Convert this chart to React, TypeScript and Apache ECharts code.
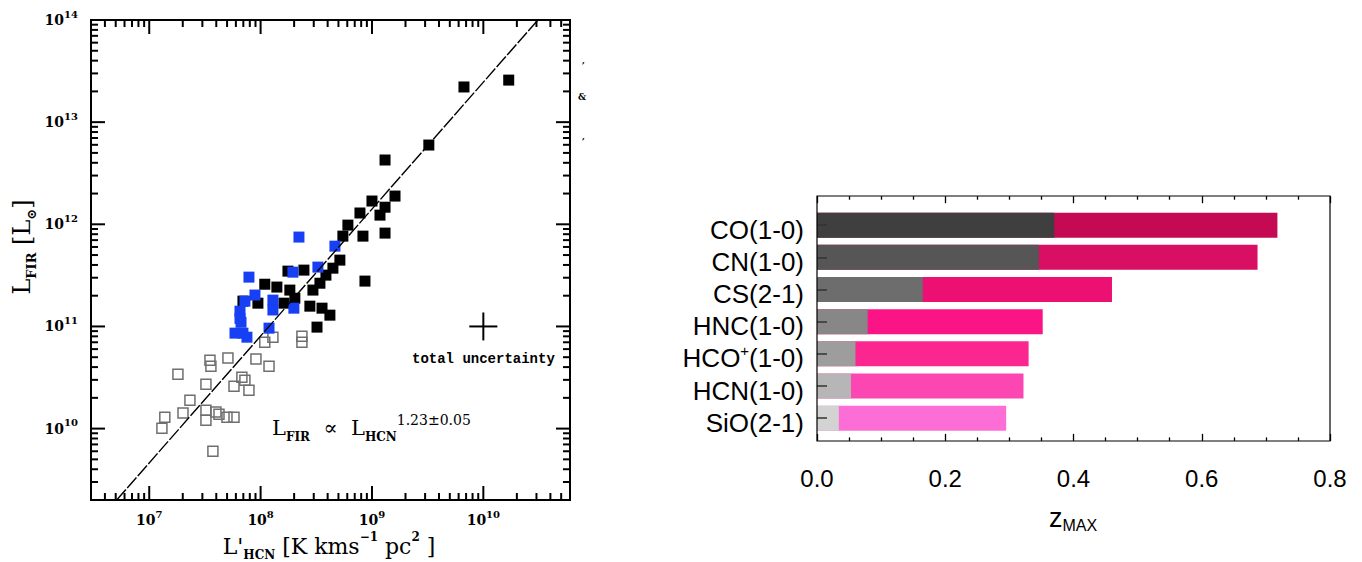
import React, { useEffect, useRef } from "react";
import * as echarts from "echarts";

// ---------- Left panel: L'_HCN vs L_FIR ----------
// [L'HCN (K km s^-1 pc^2), L_FIR (L_sun)]
const hcnGalaxiesGray: number[][] = [
  [1.09e8, 7.02e10], [1.29e8, 7.85e10], [2.35e8, 8.04e10], [2.35e8, 7.02e10],
  [3.51e7, 4.68e10], [3.58e7, 4.08e10], [5.09e7, 4.9e10], [9.08e7, 4.79e10],
  [1.19e8, 4.08e10], [1.81e7, 3.41e10], [3.23e7, 2.72e10], [6.79e7, 3.18e10],
  [7.23e7, 2.98e10], [5.77e7, 2.6e10], [7.86e7, 2.38e10], [2.32e7, 1.9e10],
  [2.01e7, 1.42e10], [1.38e7, 1.29e10], [1.3e7, 1.01e10], [3.23e7, 1.51e10],
  [3.23e7, 1.21e10], [3.97e7, 1.45e10], [4.23e7, 1.38e10], [4.99e7, 1.29e10],
  [5.77e7, 1.29e10], [3.73e7, 6.0e9],
];
const hcnGalaxiesBlack: number[][] = [
  [1.69e10, 2.58e13], [6.7e9, 2.21e13], [3.24e9, 5.97e12], [1.31e9, 4.26e12],
  [1.61e9, 1.89e12], [1.0e9, 1.69e12], [1.31e9, 1.47e12], [1.18e9, 1.23e12],
  [7.8e8, 1.29e12], [6.08e8, 9.82e11], [5.48e8, 7.66e11], [8.3e8, 7.66e11],
  [1.31e9, 8.2e11], [8.65e8, 2.78e11], [5.15e8, 4.46e11], [4.46e8, 3.72e11],
  [3.41e8, 2.65e11], [2.95e8, 2.27e11], [2.45e8, 3.56e11], [1.76e8, 3.48e11],
  [1.09e8, 2.59e11], [1.4e8, 2.43e11], [1.83e8, 2.27e11], [2.03e8, 1.89e11],
  [1.62e8, 1.69e11], [9.46e7, 1.69e11], [2.77e8, 1.58e11], [3.56e8, 1.51e11],
  [4.19e8, 1.29e11], [3.21e8, 9.85e10], [3.86e8, 3.18e11], [6.94e7, 1.77e11],
];
const hcnGalaxiesBlue: number[][] = [
  [2.21e8, 7.5e11], [4.65e8, 6.11e11], [7.86e7, 3.04e11], [1.95e8, 3.4e11],
  [3.27e8, 3.81e11], [8.9e7, 2.03e11], [7.23e7, 1.77e11], [1.29e8, 1.81e11],
  [6.53e7, 1.41e11], [1.29e8, 1.45e11], [1.99e8, 1.51e11], [6.67e7, 1.1e11],
  [5.89e7, 8.6e10], [7.54e7, 7.85e10], [1.19e8, 9.62e10], [6.94e7, 8.6e10],
  [6.53e7, 1.2e11],
];
const fitLine: number[][] = [[5.1e6, 2e9], [3.09e10, 1e14]];
const uncertaintyH: number[][] = [[7.48e9, 1e11], [1.336e10, 1e11]];
const uncertaintyV: number[][] = [[1e10, 7.3e10], [1e10, 1.37e11]];

const xRange = [3e6, 6e10];
const yRange = [2e9, 1e14];
const xMajor = [1e7, 1e8, 1e9, 1e10];
const yMajor = [1e10, 1e11, 1e12, 1e13, 1e14];

// ---------- Right panel: z_MAX per line ----------
const molecules = ["CO(1-0)", "CN(1-0)", "CS(2-1)", "HNC(1-0)", "HCO+(1-0)", "HCN(1-0)", "SiO(2-1)"];
const zGray = [0.37, 0.346, 0.165, 0.079, 0.06, 0.053, 0.034];
const zTotal = [0.718, 0.687, 0.46, 0.352, 0.33, 0.322, 0.295];
const grayColors = ["#3f3f3f", "#565656", "#6d6d6d", "#878787", "#9d9d9d", "#b6b6b6", "#d3d3d3"];
const pinkColors = ["#c40a52", "#d80f62", "#ec1073", "#fa1485", "#fc2690", "#fc47b2", "#fc6ed5"];

function minorTicks(lo: number, hi: number): number[] {
  const out: number[] = [];
  for (let e = Math.floor(Math.log10(lo)); e <= Math.ceil(Math.log10(hi)); e++) {
    for (let k = 2; k <= 9; k++) {
      const v = k * Math.pow(10, e);
      if (v >= lo && v <= hi) out.push(v);
    }
  }
  return out;
}
const xMinor = minorTicks(xRange[0], xRange[1]);
const yMinor = minorTicks(yRange[0], yRange[1]);

const SERIF = "DejaVu Serif";
const SANS = "Liberation Sans";

function powLabel(v: number): string {
  const e = Math.log10(v);
  const r = Math.round(e);
  if (Math.abs(e - r) > 1e-6) return "";
  return `{b|10}{s|${r}}`;
}
const powRich = {
  b: { fontFamily: SERIF, fontSize: 14, fontWeight: "bold", lineHeight: 22, color: "#000" },
  s: { fontFamily: SERIF, fontSize: 10, fontWeight: "bold", lineHeight: 10, verticalAlign: "top", color: "#000" },
};

function logAxis(kind: "x" | "y", position: string) {
  const range = kind === "x" ? xRange : yRange;
  const vals = kind === "x" ? xMajor : yMajor;
  return {
    gridIndex: 0,
    type: "log",
    logBase: 10,
    min: range[0],
    max: range[1],
    position,
    axisLine: { show: false },
    axisTick: { show: false },
    axisLabel: { show: true, customValues: vals, formatter: powLabel, rich: powRich, margin: kind === "x" ? 9 : 13 },
    splitLine: { show: false },
    minorTick: { show: false },
    z: 5,
  };
}

// Inside tick marks on the four sides of the left frame, placed through the log scales.
const MAJOR_LEN = 14;
const MINOR_LEN = 7;
const TICK_W = 2;
function tickItem(side: string, v: number, len: number) {
  if (side === "bottom") return { value: [v, yRange[0]], symbolSize: [TICK_W, len], symbolOffset: [0, -len / 2] };
  if (side === "top") return { value: [v, yRange[1]], symbolSize: [TICK_W, len], symbolOffset: [0, len / 2] };
  if (side === "left") return { value: [xRange[0], v], symbolSize: [len, TICK_W], symbolOffset: [len / 2, 0] };
  return { value: [xRange[1], v], symbolSize: [len, TICK_W], symbolOffset: [-len / 2, 0] };
}
function tickSeries(side: string) {
  const horiz = side === "bottom" || side === "top";
  const major = horiz ? xMajor : yMajor;
  const minor = horiz ? xMinor : yMinor;
  return {
    name: `ticks-${side}`,
    type: "scatter",
    xAxisIndex: 0,
    yAxisIndex: 0,
    symbol: "rect",
    clip: false,
    silent: true,
    z: 7,
    itemStyle: { color: "#000", opacity: 1 },
    data: [...major.map((v) => tickItem(side, v, MAJOR_LEN)), ...minor.map((v) => tickItem(side, v, MINOR_LEN))],
  };
}

function moleculeLabel(v: string): string {
  if (v === "HCO+(1-0)") return "{a|HCO}{p|+}{a|(1-0)}";
  return `{a|${v}}`;
}

export default function App() {
  const ref = useRef<HTMLDivElement>(null);
  useEffect(() => {
    const chart = echarts.init(ref.current!, undefined, { renderer: "svg" });
    const option: any = {
      animation: false,
      backgroundColor: "#fff",
      grid: [
        { left: 91, top: 20, width: 479, height: 480, show: true, borderColor: "#000", borderWidth: 2, backgroundColor: "transparent", containLabel: false },
        { left: 817, top: 209.1, width: 513, height: 225.2, show: false, containLabel: false },
      ],
      xAxis: [
        logAxis("x", "bottom"),
        {
          gridIndex: 1, type: "value", min: 0, max: 0.8, interval: 0.2, position: "bottom", offset: 6.6,
          axisLine: { show: false },
          axisTick: { show: true, inside: true, length: 7, lineStyle: { color: "#000", width: 1.3 } },
          minorTick: { show: true, splitNumber: 4, length: 3.5, lineStyle: { color: "#000", width: 1.3 } },
          axisLabel: { show: true, margin: 26, fontFamily: SANS, fontSize: 24, color: "#000", formatter: (v: number) => v.toFixed(1) },
          splitLine: { show: false },
          z: 5,
        },
        {
          gridIndex: 1, type: "value", min: 0, max: 0.8, interval: 0.2, position: "top", offset: 12.9,
          axisLine: { show: false },
          axisTick: { show: true, inside: true, length: 7, lineStyle: { color: "#000", width: 1.3 } },
          minorTick: { show: true, splitNumber: 4, length: 3.5, lineStyle: { color: "#000", width: 1.3 } },
          axisLabel: { show: false },
          splitLine: { show: false },
          z: 5,
        },
      ],
      yAxis: [
        logAxis("y", "left"),
        {
          gridIndex: 1, type: "category", data: molecules, inverse: true, position: "left",
          axisLine: { show: false },
          axisTick: { show: true, inside: true, alignWithLabel: true, length: 10, lineStyle: { color: "#333", width: 1.5 } },
          axisLabel: {
            show: true, margin: 13, formatter: moleculeLabel, padding: [9, 0, 0, 0],
            rich: {
              a: { fontFamily: SANS, fontSize: 26, lineHeight: 30, color: "#000" },
              p: { fontFamily: SANS, fontSize: 15, lineHeight: 14, verticalAlign: "top", color: "#000" },
            },
          },
          splitLine: { show: false },
          z: 10,
        },
      ],
      series: [
        {
          name: "Lower-luminosity galaxies", type: "scatter", xAxisIndex: 0, yAxisIndex: 0,
          data: hcnGalaxiesGray, symbol: "rect", symbolSize: 10,
          itemStyle: { color: "rgba(0,0,0,0)", borderColor: "#6f6f6f", borderWidth: 1.5, opacity: 1 },
          silent: true, z: 2,
        },
        {
          name: "Galaxies", type: "scatter", xAxisIndex: 0, yAxisIndex: 0,
          data: hcnGalaxiesBlack, symbol: "rect", symbolSize: 11,
          itemStyle: { color: "#000", opacity: 1 }, silent: true, z: 3,
        },
        {
          name: "Blue sample", type: "scatter", xAxisIndex: 0, yAxisIndex: 0,
          data: hcnGalaxiesBlue, symbol: "rect", symbolSize: 11,
          itemStyle: { color: "#1740f5", opacity: 1 }, silent: true, z: 4,
        },
        {
          name: "Fit", type: "line", xAxisIndex: 0, yAxisIndex: 0, data: fitLine,
          symbol: "none", lineStyle: { color: "#000", width: 1.4, type: [14, 2] }, silent: true, z: 6,
        },
        {
          name: "Uncertainty H", type: "line", xAxisIndex: 0, yAxisIndex: 0, data: uncertaintyH,
          symbol: "none", lineStyle: { color: "#000", width: 2 }, silent: true, z: 6,
        },
        {
          name: "Uncertainty V", type: "line", xAxisIndex: 0, yAxisIndex: 0, data: uncertaintyV,
          symbol: "none", lineStyle: { color: "#000", width: 2 }, silent: true, z: 6,
        },
        tickSeries("bottom"),
        tickSeries("top"),
        tickSeries("left"),
        tickSeries("right"),
        {
          name: "z total", type: "bar", xAxisIndex: 1, yAxisIndex: 1, barWidth: 25, barGap: "-100%",
          data: zTotal.map((v, i) => ({ value: v, itemStyle: { color: pinkColors[i] } })),
          silent: true, z: 2,
        },
        {
          name: "z gray", type: "bar", xAxisIndex: 1, yAxisIndex: 1, barWidth: 25, barGap: "-100%",
          data: zGray.map((v, i) => ({ value: v, itemStyle: { color: grayColors[i] } })),
          silent: true, z: 3,
        },
      ],
      graphic: [
        {
          type: "rect", silent: true, z: 20,
          shape: { x: 817, y: 196, width: 513, height: 245 },
          style: { fill: "none", stroke: "#000", lineWidth: 1.2 },
        },
        {
          type: "text", x: 329, y: 546, silent: true, z: 20,
          style: {
            text: "{m|L'}{sub|HCN}{m| [K kms}{sup|−1}{m| pc}{sup|2}{m| ]}",
            align: "center", verticalAlign: "middle", textAlign: "center", textVerticalAlign: "middle",
            rich: {
              m: { fontFamily: SERIF, fontSize: 22, lineHeight: 30, fill: "#000", color: "#000" },
              sub: { fontFamily: SERIF, fontSize: 12, fontWeight: "bold", lineHeight: 19, verticalAlign: "bottom", fill: "#000", color: "#000" },
              sup: { fontFamily: SERIF, fontSize: 12, fontWeight: "bold", lineHeight: 8, verticalAlign: "top", fill: "#000", color: "#000" },
            },
          },
        },
        {
          type: "text", x: 22, y: 247, rotation: Math.PI / 2, silent: true, z: 20,
          style: {
            text: "{m|L}{sub|FIR}{m| [L}{sub|⊙}{m|]}",
            align: "center", verticalAlign: "middle", textAlign: "center", textVerticalAlign: "middle",
            rich: {
              m: { fontFamily: SERIF, fontSize: 24, lineHeight: 32, fill: "#000", color: "#000" },
              sub: { fontFamily: SERIF, fontSize: 13, fontWeight: "bold", lineHeight: 20, verticalAlign: "bottom", fill: "#000", color: "#000" },
            },
          },
        },
        {
          type: "text", x: 272, y: 427.5, silent: true, z: 20,
          style: {
            text: "{m|L}{sub|FIR}{m|  ∝  L}{sub|HCN}{sup|1.23±0.05}",
            align: "left", verticalAlign: "middle", textAlign: "left", textVerticalAlign: "middle",
            rich: {
              m: { fontFamily: SERIF, fontSize: 21, lineHeight: 30, fill: "#000", color: "#000" },
              sub: { fontFamily: SERIF, fontSize: 12, fontWeight: "bold", lineHeight: 14, verticalAlign: "bottom", fill: "#000", color: "#000" },
              sup: { fontFamily: SERIF, fontSize: 14, lineHeight: 12, verticalAlign: "top", fill: "#000", color: "#000" },
            },
          },
        },
        {
          type: "text", x: 412, y: 359, silent: true, z: 20,
          style: {
            text: "total uncertainty", font: "bold 14px 'Liberation Mono'", fill: "#000",
            align: "left", verticalAlign: "middle", textAlign: "left", textVerticalAlign: "middle",
          },
        },
        {
          type: "text", x: 1073, y: 518, silent: true, z: 20,
          style: {
            text: "{z|z}{s|MAX}",
            align: "center", verticalAlign: "middle", textAlign: "center", textVerticalAlign: "middle",
            rich: {
              z: { fontFamily: SANS, fontSize: 27, lineHeight: 30, fill: "#000", color: "#000" },
              s: { fontFamily: SANS, fontSize: 16, lineHeight: 13, verticalAlign: "bottom", fill: "#000", color: "#000" },
            },
          },
        },
        { type: "text", x: 583, y: 66, silent: true, style: { text: "ʼ", font: "bold 9px 'DejaVu Serif'", fill: "#000", align: "center", verticalAlign: "middle" } },
        { type: "text", x: 582, y: 97, silent: true, style: { text: "&", font: "bold 9px 'DejaVu Serif'", fill: "#000", align: "center", verticalAlign: "middle" } },
        { type: "text", x: 583, y: 142, silent: true, style: { text: "ʼ", font: "bold 9px 'DejaVu Serif'", fill: "#000", align: "center", verticalAlign: "middle" } },
      ],
    };
    chart.setOption(option);
    return () => chart.dispose();
  }, []);
  return (
    <div
      ref={ref}
      style={{ position: "fixed", left: 0, top: 0, width: 1362, height: 562, background: "#fff" }}
    />
  );
}
